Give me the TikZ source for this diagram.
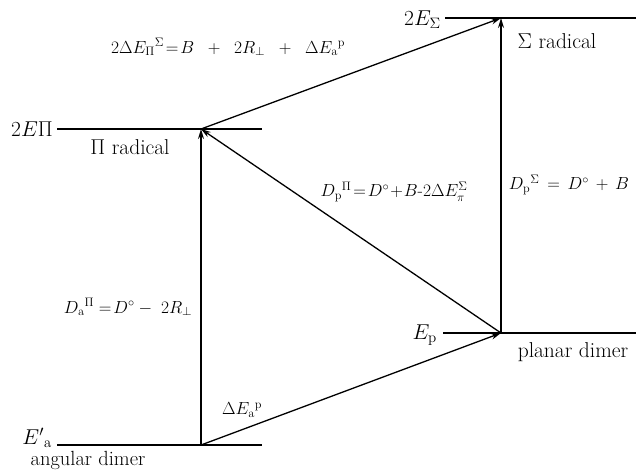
\RequirePackage{fix-cm}
\documentclass[tikz,border=0pt]{standalone}
\usetikzlibrary{arrows.meta}
\begin{document}
\begin{tikzpicture}[x=1pt,y=-1pt,
  level/.style={line width=1.3pt},
  arr/.style={line width=1.3pt,-{Stealth[length=10pt,width=6pt]}},
  big/.style={font=\fontsize{21.5}{25}\selectfont, inner sep=0pt},
  eq/.style={font=\fontsize{17.5}{20}\selectfont, inner sep=0pt}]
\useasboundingbox (0,0) rectangle (636,469);
% states
\coordinate (A) at (201,445);
\coordinate (P) at (501,333);
\coordinate (Pi) at (201,129);
\coordinate (S) at (501,18);
% level line ends
\coordinate (AL) at (57,445);  \coordinate (AR) at (262,445);
\coordinate (PiL) at (57,129); \coordinate (PiR) at (262,129);
\coordinate (PL) at (443,333); \coordinate (PR) at (636,333);
\coordinate (SL) at (445,18);  \coordinate (SR) at (636,18);
\draw[level] (AL) -- (AR);
\draw[level] (PiL) -- (PiR);
\draw[level] (PL) -- (PR);
\draw[level] (SL) -- (SR);
% arrows
\draw[arr] (A) -- (Pi);
\draw[arr] (A) -- (P);
\draw[arr] (P) -- (S);
\draw[arr] (P) -- (Pi);
\draw[arr] (Pi) -- (S);
% level labels
\node[big,anchor=east] (lS) at (441,20) {$2E_{\Sigma}$};
\node[big] (nS) at (557,41) {$\Sigma$ radical};
\node[big,anchor=east] (lPi) at (53,129) {$2E\Pi$};
\node[big] (nPi) at (130,147) {$\Pi$ radical};
\node[big,anchor=east] (lP) at (437,335) {$E_{\mathrm{p}}$};
\node[big] (nP) at (573,352) {planar dimer};
\node[big,anchor=base east] (lA) at (52,444) {$E'{}_{\mathrm{a}}$};
\node[big,font=\fontsize{20.5}{24}\selectfont,anchor=base] (nA) at (88,465) {angular dimer};
% equations
\node[eq] (e1) at (228,47) {$2\Delta E_{\Pi}{}^{\Sigma}\!=\!B\;\;+\;\;2R_{\perp}\;\;+\;\;\Delta E_{\mathrm{a}}{}^{\mathrm{p}}$};
\node[eq] (e2) at (394,192) {$D_{\mathrm{p}}{}^{\Pi}\!=\!D^{\circ}\!+\!B\mbox{-}2\Delta E^{\Sigma}_{\pi}$};
\node[eq] (e3) at (569,185) {$D_{\mathrm{p}}{}^{\Sigma}\,=\,D^{\circ}\,+\,B$};
\node[eq] (e4) at (128,307) {$D_{\mathrm{a}}{}^{\Pi}=\!D^{\circ}-\;2R_{\perp}$};
\node[eq] (e5) at (242,410) {$\Delta E_{\mathrm{a}}{}^{\mathrm{p}}$};
\end{tikzpicture}
\end{document}
